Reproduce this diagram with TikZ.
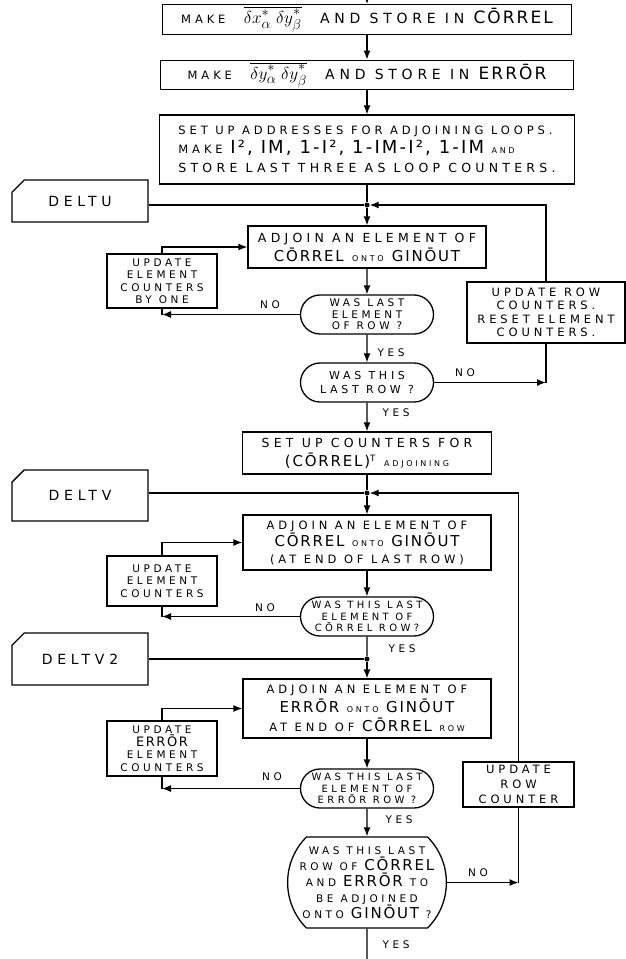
\documentclass[tikz,border=0pt]{standalone}
\usepackage{fontspec}
\setmainfont{DejaVu Sans}
\newfontfamily\letfont{DejaVu Sans}[LetterSpace=34]
\newfontfamily\capfont{DejaVu Sans}[LetterSpace=12]
\usetikzlibrary{arrows.meta,shapes.misc}
\newcommand{\bigw}[2][15]{{\capfont\fontsize{#1}{#1}\selectfont #2}}
\newcommand{\smallw}[1]{{\letfont\fontsize{8}{9}\selectfont #1}}
\newcommand{\CORREL}{\bigw{C\=ORREL}}
\newcommand{\ERROR}{\bigw{ERR\=OR}}
\newcommand{\GINOUT}{\bigw{GIN\=OUT}}
\newcommand{\starsub}[1]{^{\raisebox{2.5pt}{$\scriptstyle *$}}_{#1}}
\tikzset{
  procbox/.style={draw,line width=1.3pt,inner sep=2pt,align=center,font=\letfont\fontsize{12.5}{19}\selectfont},
  updbox/.style={procbox,font=\letfont\fontsize{10.5}{12.5}\selectfont},
  entrybox/.style={chamfered rectangle,chamfered rectangle corners=north west,chamfered rectangle xsep=13pt,draw,line width=1.3pt,font=\letfont\fontsize{14}{16}\selectfont},
  decide/.style={rounded rectangle,draw,line width=1.3pt,inner sep=1pt,align=center,font=\letfont\fontsize{10}{11.5}\selectfont},
  lbl/.style={font=\letfont\fontsize{10.5}{12}\selectfont,inner sep=0pt},
  arr/.style={-{Latex[length=9pt,width=7pt]},line width=1.3pt},
  ln/.style={line width=1.3pt},
  joint/.style={circle,fill,inner sep=0pt,minimum size=5pt},
}
\begin{document}
\begin{tikzpicture}[x=1pt,y=-1pt]
  \useasboundingbox (0,0) rectangle (625,959);
  % main column
  \coordinate (top) at (367,0);
  \node[procbox,font=\letfont\fontsize{14}{19}\selectfont,minimum width=409pt,minimum height=27pt] (make1) at (367,19.5) {{\fontsize{11.5}{12}\selectfont MAKE}\ \ {\fontsize{19}{19}\selectfont$\overline{\delta x\starsub{\alpha}\;\delta y\starsub{\beta}}$}\ \ AND STORE IN \bigw[17]{C\=ORREL}};
  \node[procbox,font=\letfont\fontsize{14}{19}\selectfont,minimum width=413pt,minimum height=28pt] (make2) at (367,75) {{\fontsize{11.5}{12}\selectfont MAKE}\ \ {\fontsize{19}{19}\selectfont$\overline{\delta y\starsub{\alpha}\;\delta y\starsub{\beta}}$}\ \ AND STORE IN \bigw[17]{ERR\=OR}};
  \node[procbox,align=left,font=\letfont\fontsize{11.5}{19}\selectfont,minimum width=415pt,minimum height=69pt] (setaddr) at (367,149.5) {SET UP ADDRESSES FOR ADJOINING LOOPS.\\MAKE \bigw[18]{I², IM, 1-I², 1-IM-I², 1-IM} \smallw{AND}\\{\fontsize{12.5}{19}\selectfont STORE LAST THREE AS LOOP COUNTERS.}};
  \node[entrybox,minimum width=136pt,minimum height=42pt] (deltu) at (80,201) {DELTU};
  \node[joint] (j1) at (367,205) {};
  \node[procbox,minimum width=238pt,minimum height=42pt] (adj1) at (367,247) {ADJOIN AN ELEMENT OF\\\CORREL\ \smallw{ONTO}\ \GINOUT};
  \node[updbox,minimum width=110pt,minimum height=54pt] (upd1) at (162,281) {UPDATE\\ELEMENT\\COUNTERS\\BY ONE};
  \node[decide,font=\letfont\fontsize{10.5}{11.5}\selectfont,minimum width=135pt,minimum height=39pt] (dec1) at (367,314.5) {WAS LAST\\ELEMENT\\OF ROW ?};
  \node[updbox,font=\letfont\fontsize{11.5}{13.5}\selectfont,minimum width=158pt,minimum height=61pt] (rowupd) at (546,312.5) {UPDATE ROW\\COUNTERS.\\RESET ELEMENT\\COUNTERS.};
  \node[decide,font=\letfont\fontsize{11}{13.5}\selectfont,minimum width=135pt,minimum height=39pt] (dec2) at (367,382.5) {WAS THIS\\LAST ROW ?};
  \node[procbox,minimum width=249pt,minimum height=42pt] (setcnt) at (367,453) {SET UP COUNTERS FOR\\\bigw{(C\=ORREL)}\textsuperscript{T} \smallw{ADJOINING}};
  \node[entrybox,minimum width=136pt,minimum height=51pt] (deltv) at (80,495.5) {DELTV};
  \node[joint] (j2) at (367,493) {};
  \node[procbox,font=\letfont\fontsize{11.5}{17}\selectfont,minimum width=248pt,minimum height=55pt] (adj2) at (367,542.5) {ADJOIN AN ELEMENT OF\\\CORREL\ \smallw{ONTO}\ \GINOUT\\(AT END OF LAST ROW)};
  \node[updbox,minimum width=110pt,minimum height=50pt] (upd2) at (162,581) {UPDATE\\ELEMENT\\COUNTERS};
  \node[decide,minimum width=135pt,minimum height=39pt] (dec3) at (367,616.5) {WAS THIS LAST\\ELEMENT OF\\C\=ORREL ROW?};
  \node[entrybox,minimum width=136pt,minimum height=52pt] (deltv2) at (80,659) {DELTV2};
  \node[joint] (j3) at (367,659) {};
  \node[procbox,font=\letfont\fontsize{11.5}{19}\selectfont,minimum width=248pt,minimum height=59pt] (adj3) at (367,708.5) {ADJOIN AN ELEMENT OF\\\ERROR\ \smallw{ONTO}\ \GINOUT\\AT END OF \CORREL\ \smallw{ROW}};
  \node[updbox,minimum width=110pt,minimum height=55pt] (upd3) at (162,748.5) {UPDATE\\\bigw[13]{ERR\=OR}\\ELEMENT\\COUNTERS};
  \node[decide,minimum width=135pt,minimum height=39pt] (dec4) at (367,788.5) {WAS THIS LAST\\ELEMENT OF\\ERR\=OR ROW ?};
  \node[updbox,font=\letfont\fontsize{11.5}{15}\selectfont,minimum width=111pt,minimum height=45pt] (rowcnt) at (518.5,784.5) {UPDATE\\ROW\\COUNTER};
  \node[decide,rounded rectangle arc length=90,font=\letfont\fontsize{10.5}{16}\selectfont,minimum width=157pt,minimum height=91pt] (dec5) at (367,882.5) {WAS THIS LAST\\ROW OF \CORREL\\AND \ERROR\ TO\\BE ADJOINED\\ONTO \GINOUT\ ?};
  \coordinate (bot) at (367,959);
  % labels
  \node[lbl] (noA) at (270,305) {NO};
  \node[lbl] (yesA) at (391,353) {YES};
  \node[lbl] (noB) at (465,373) {NO};
  \node[lbl] (yesB) at (396,413) {YES};
  \node[lbl] (noC) at (265,608) {NO};
  \node[lbl] (yesC) at (402,649) {YES};
  \node[lbl] (noD) at (272,777) {NO};
  \node[lbl] (yesD) at (399,820) {YES};
  \node[lbl] (noE) at (478,873) {NO};
  \node[lbl] (yesE) at (396,945) {YES};
  % connectors
  \draw[arr] (top) -- (make1);
  \draw[arr] (make1) -- (make2);
  \draw[arr] (make2) -- (setaddr);
  \draw[ln] (setaddr) -- (j1);
  \draw[ln] (deltu.east |- j1) -- (j1);
  \draw[arr] (j1) -- (adj1);
  \draw[arr] (adj1) -- (dec1);
  \draw[arr] (dec1.west) -- (dec1.west -| upd1.south);
  \draw[ln] (upd1.south) -- (dec1.west -| upd1.south);
  \draw[arr] (upd1.north) |- (adj1.west);
  \draw[arr] (dec1) -- (dec2);
  \draw[arr] (dec2.east) -- (dec2.east -| rowupd.south);
  \draw[ln] (rowupd.south) -- (dec2.east -| rowupd.south);
  \draw[arr] (rowupd.north) |- (j1);
  \draw[arr] (dec2) -- (setcnt);
  \draw[ln] (setcnt) -- (j2);
  \draw[ln] (deltv.east |- j2) -- (j2);
  \draw[arr] (j2) -- (adj2);
  \draw[arr] (adj2) -- (dec3);
  \draw[arr] (dec3.west) -- (dec3.west -| upd2.south);
  \draw[ln] (upd2.south) -- (dec3.west -| upd2.south);
  \draw[arr] (upd2.north) |- (adj2.west);
  \draw[ln] (dec3) -- (j3);
  \draw[ln] (deltv2.east |- j3) -- (j3);
  \draw[arr] (j3) -- (adj3);
  \draw[arr] (adj3) -- (dec4);
  \draw[arr] (dec4.west) -- (dec4.west -| upd3.south);
  \draw[ln] (upd3.south) -- (dec4.west -| upd3.south);
  \draw[arr] (upd3.north) |- (adj3.west);
  \draw[arr] (dec4) -- (dec5);
  \draw[arr] (dec5.east) -- (dec5.east -| rowcnt.south);
  \draw[ln] (rowcnt.south) -- (dec5.east -| rowcnt.south);
  \draw[arr] (rowcnt.north) |- (j2);
  \draw[ln] (dec5) -- (bot);
\end{tikzpicture}
\end{document}
